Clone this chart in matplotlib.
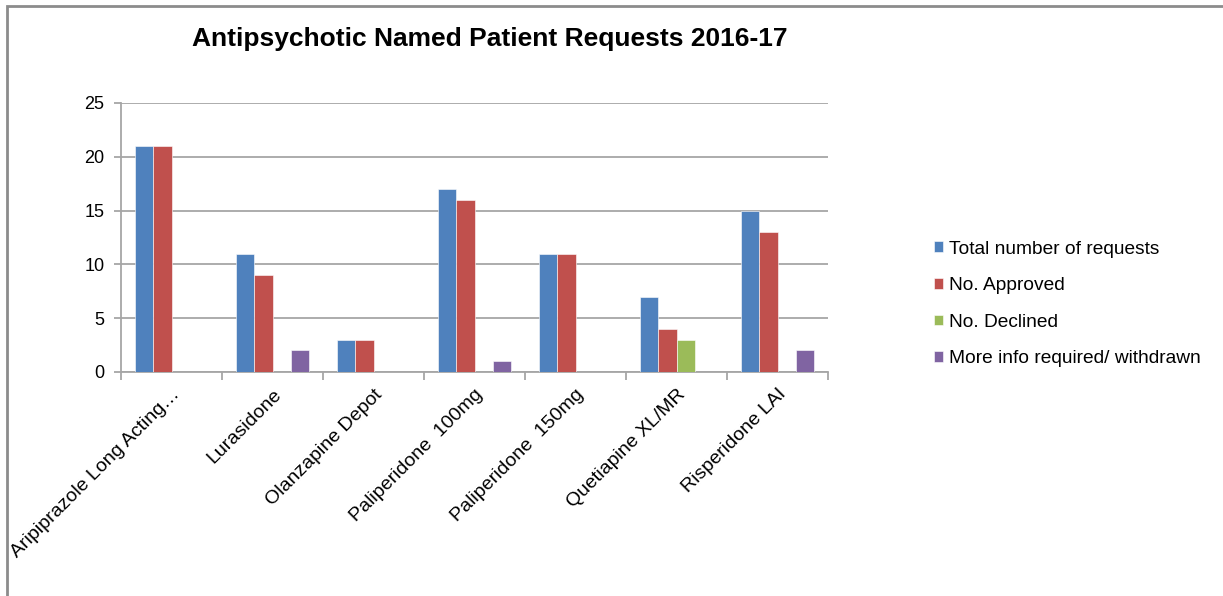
import matplotlib
matplotlib.use("Agg")
import matplotlib.pyplot as plt
from matplotlib.patches import Rectangle
import numpy as np

plt.rcParams['font.family'] = ['Liberation Sans', 'DejaVu Sans']

categories = ["Aripiprazole Long Acting\u2026", "Lurasidone", "Olanzapine Depot",
              "Paliperidone  100mg", "Paliperidone  150mg", "Quetiapine XL/MR",
              "Risperidone LAI"]
series_names = ["Total number of requests", "No. Approved", "No. Declined",
                "More info required/ withdrawn"]
total = [21, 11, 3, 17, 11, 7, 15]
approved = [21, 9, 3, 16, 11, 4, 13]
declined = [0, 0, 0, 0, 0, 3, 0]
more_info = [0, 2, 0, 1, 0, 0, 2]
colors = ["#4F81BD", "#C0504D", "#9BBB59", "#8064A2"]
title = "Antipsychotic Named Patient Requests 2016-17"

W, H = 1223, 596
fig = plt.figure(figsize=(W / 100, H / 100), dpi=100)
fig.patches.append(Rectangle((6.5 / W, -0.1), 1.2, 1 + 0.1 - 5.5 / H, transform=fig.transFigure,
                             fill=False, edgecolor="#8C8C8C", linewidth=2))

ax = fig.add_axes([121 / W, 1 - 372 / H, (828 - 121) / W, (372 - 103) / H])
x = np.arange(len(categories))
bw = 0.183
data = [total, approved, declined, more_info]
for i, (vals, c, name) in enumerate(zip(data, colors, series_names)):
    ax.bar(x + (i - 1.5) * bw, vals, width=bw, color=c, label=name,
           edgecolor="white", linewidth=0.4, zorder=3)

ax.set_xlim(-0.5, len(categories) - 0.5)
ax.set_ylim(0, 25)
ax.set_yticks([0, 5, 10, 15, 20, 25])
ax.yaxis.grid(True, color="#A6A6A6", linewidth=1.3, zorder=0)
ax.set_axisbelow(True)
for s in ["top", "right"]:
    ax.spines[s].set_visible(False)
for s in ["left", "bottom"]:
    ax.spines[s].set_color("#A6A6A6")
    ax.spines[s].set_linewidth(1.3)
ax.tick_params(axis="y", length=5, color="#A6A6A6", width=1.3, labelsize=13,
               labelcolor="black", pad=7)
ax.set_xticks(x)
ax.set_xticklabels(categories, rotation=45, ha="right", rotation_mode="anchor",
                   fontsize=14)
ax.tick_params(axis="x", which="major", length=0, pad=10)
ax.set_xticks(np.arange(-0.5, len(categories), 1), minor=True)
ax.tick_params(axis="x", which="minor", length=6, color="#A6A6A6", width=1.3)

fig.text(490 / W, 1 - 39 / H, title, ha="center", va="center", fontsize=19,
         fontweight="bold")

leg = fig.legend(loc="upper left", bbox_to_anchor=(926 / W, 1 - 233 / H),
                 frameon=False, fontsize=13.8, handlelength=0.5, handleheight=0.5,
                 handletextpad=0.3, labelspacing=1.02, borderaxespad=0)

fig.savefig("out.png", dpi=100)
